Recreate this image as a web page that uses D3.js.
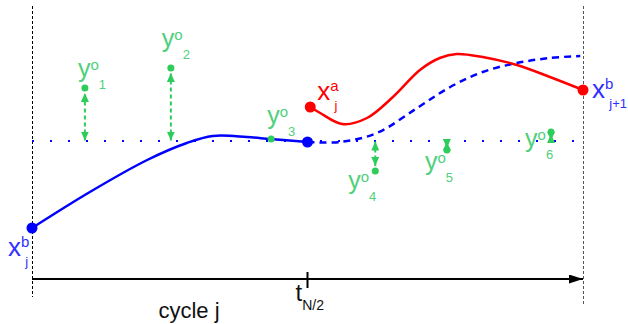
<!DOCTYPE html>
<html><head><meta charset="utf-8">
<script src="https://cdn.jsdelivr.net/npm/d3@7"></script>
<style>
body{margin:0;background:#fff}
svg{display:block;font-family:"Liberation Sans",Arial,sans-serif}
</style>
</head><body>
<svg id="c" width="628" height="324"></svg>
<script>
// ---- data ----
const cycleBounds = [0, 10];          // start / end of assimilation cycle j
const tickTimes = [5];                // t_{N/2}
const tickMain = ["t"];
const tickSub = ["N/2"];
// background trajectory (solid) over first half window
const bgTime  = [0, 1.05, 2.09, 2.81, 3.28, 3.90, 4.32, 5.0];
const bgValue = [-4.35, -2.55, -0.95, -0.1, 0.25, 0.2, 0.1, -0.05];
// background forecast (dashed) over second half
const fcTime  = [5.0, 5.59, 6.26, 6.99, 7.59, 8.18, 8.80, 9.40, 9.95];
const fcValue = [-0.05, -0.05, 0.4, 1.65, 2.7, 3.45, 3.9, 4.15, 4.25];
// analysis trajectory (red)
const anTime  = [5.05, 5.23, 5.63, 6.08, 6.55, 7.04, 7.40, 7.71, 8.18, 8.80, 9.40, 10.0];
const anValue = [1.7, 1.4, 0.85, 1.15, 2.2, 3.55, 4.15, 4.35, 4.2, 3.8, 3.2, 2.55];
// observations
const obsTime  = [0.96, 2.52, 4.34, 6.23, 7.53, 9.42];
const obsValue = [2.65, 3.65, 0.1, -1.5, -0.45, 0.45];
const obsSub   = ["1", "2", "3", "4", "5", "6"];
const refValue = 0;                   // dotted reference level

// ---- layout ----
const W = 628, H = 324;
const frameTop = 6, axisY = 279;
const obsLabelOffset = [[-7,-11],[-9,-21],[-4,-15],[-27,18],[-22,20],[-26,15]];
const BLUE = "#0000ff", BLUE_T = "#2f2fff", RED = "#ff0000",
      GREEN = "#2ecc5a", GREEN_T = "#4fd07c";

const svg = d3.select("#c");
svg.append("rect").attr("width", W).attr("height", H).attr("fill", "#fff");

const x = d3.scaleLinear().domain(cycleBounds).range([32, 583]);
const y = d3.scaleLinear().domain([-5, 5]).range([241, 41]);

const defs = svg.append("defs");
defs.append("marker").attr("id", "gArrow")
  .attr("markerUnits", "userSpaceOnUse").attr("markerWidth", 9).attr("markerHeight", 8)
  .attr("refX", 9).attr("refY", 4).attr("orient", "auto-start-reverse")
  .append("path").attr("d", "M0,0L9,4L0,8Z").attr("fill", GREEN);
defs.append("marker").attr("id", "kArrow")
  .attr("markerUnits", "userSpaceOnUse").attr("markerWidth", 14).attr("markerHeight", 9)
  .attr("refX", 14).attr("refY", 4.5).attr("orient", "auto")
  .append("path").attr("d", "M0,0L14,4.5L0,9Z").attr("fill", "#000");

// cycle boundaries
svg.selectAll("line.bound").data(cycleBounds).join("line")
  .attr("class", "bound")
  .attr("x1", d => Math.round(x(d)) + 0.5).attr("x2", d => Math.round(x(d)) + 0.5)
  .attr("y1", frameTop).attr("y2", (d, i) => i === 0 ? 297 : 304)
  .attr("stroke", (d, i) => i === 0 ? "#000" : "#555")
  .attr("stroke-width", 1).attr("stroke-dasharray", "3,2");

// time axis
svg.append("line")
  .attr("x1", x(cycleBounds[0])).attr("x2", x(cycleBounds[1]))
  .attr("y1", axisY).attr("y2", axisY)
  .attr("stroke", "#000").attr("stroke-width", 2).attr("marker-end", "url(#kArrow)");
svg.selectAll("line.tick").data(tickTimes).join("line").attr("class", "tick")
  .attr("x1", d => x(d)).attr("x2", d => x(d))
  .attr("y1", axisY - 7).attr("y2", axisY + 9)
  .attr("stroke", "#000").attr("stroke-width", 2);
tickTimes.forEach((t, i) => {
  const tx = svg.append("text").attr("x", x(t) - 12).attr("y", 301)
    .attr("font-size", 24).attr("fill", "#111").text(tickMain[i]);
  tx.append("tspan").attr("dy", 9).attr("font-size", 14).text(tickSub[i]);
});
svg.append("text").attr("x", x(2.85)).attr("y", 318).attr("text-anchor", "middle")
  .attr("font-size", 22).attr("fill", "#111").text("cycle j");

// reference dotted line
svg.append("line")
  .attr("x1", x(cycleBounds[0])).attr("x2", x(cycleBounds[1]))
  .attr("y1", y(refValue)).attr("y2", y(refValue))
  .attr("stroke", BLUE).attr("stroke-width", 2).attr("stroke-dasharray", "2,16");

const line = d3.line().x(d => x(d[0])).y(d => y(d[1])).curve(d3.curveCatmullRom.alpha(0.5));
const zip = (a, b) => a.map((v, i) => [v, b[i]]);

svg.append("path").attr("d", line(zip(fcTime, fcValue)))
  .attr("fill", "none").attr("stroke", BLUE).attr("stroke-width", 2.5).attr("stroke-dasharray", "7,5");
svg.append("path").attr("d", line(zip(bgTime, bgValue)))
  .attr("fill", "none").attr("stroke", BLUE).attr("stroke-width", 2.5);
svg.append("path").attr("d", line(zip(anTime, anValue)))
  .attr("fill", "none").attr("stroke", RED).attr("stroke-width", 2.5);

// observation arrows + points
obsTime.forEach((t, i) => {
  const py = y(obsValue[i]), ry = y(refValue);
  const dist = Math.abs(py - ry);
  if (dist > 6) {
    const s = py < ry ? 1 : -1;   // direction from point toward ref line
    svg.append("line").attr("x1", x(t)).attr("x2", x(t))
      .attr("y1", ry - s * 0.5).attr("y2", py + s * (dist > 15 ? 5 : 2))
      .attr("stroke", GREEN).attr("stroke-width", 2).attr("stroke-dasharray", "4,3")
      .attr("marker-start", "url(#gArrow)").attr("marker-end", "url(#gArrow)");
  }
});
svg.selectAll("circle.obs").data(obsTime).join("circle").attr("class", "obs")
  .attr("cx", d => x(d)).attr("cy", (d, i) => y(obsValue[i])).attr("r", 3.5).attr("fill", GREEN);
obsTime.forEach((t, i) => {
  const tx = svg.append("text")
    .attr("x", x(t) + obsLabelOffset[i][0]).attr("y", y(obsValue[i]) + obsLabelOffset[i][1])
    .attr("font-size", 25).attr("fill", GREEN_T).text("y");
  tx.append("tspan").attr("dy", -7).attr("font-size", 15).text("o");
  tx.append("tspan").attr("dy", 19).attr("font-size", 13).text(obsSub[i]);
});

// state points
const bPts = [[bgTime[0], bgValue[0]], [bgTime[bgTime.length - 1], bgValue[bgValue.length - 1]]];
svg.selectAll("circle.b").data(bPts).join("circle").attr("class", "b")
  .attr("cx", d => x(d[0])).attr("cy", d => y(d[1])).attr("r", 5.5).attr("fill", BLUE);
const aPts = [[anTime[0], anValue[0]], [anTime[anTime.length - 1], anValue[anValue.length - 1]]];
svg.selectAll("circle.a").data(aPts).join("circle").attr("class", "a")
  .attr("cx", d => x(d[0])).attr("cy", d => y(d[1])).attr("r", 5.5).attr("fill", RED);

function stateLabel(px, py, sup, sub, color) {
  const tx = svg.append("text").attr("x", px).attr("y", py)
    .attr("font-size", 26).attr("fill", color).text("x");
  tx.append("tspan").attr("dy", -9).attr("font-size", 15).text(sup);
  tx.append("tspan").attr("dx", -4).attr("dy", 19).attr("font-size", 13).text(sub);
}
stateLabel(x(bPts[0][0]) - 24, y(bPts[0][1]) + 28, "b", "j", BLUE_T);
stateLabel(x(aPts[1][0]) + 9, y(aPts[1][1]) + 8, "b", "j+1", BLUE_T);
stateLabel(x(aPts[0][0]) + 7, y(aPts[0][1]) - 7, "a", "j", RED);
</script>
</body></html>
